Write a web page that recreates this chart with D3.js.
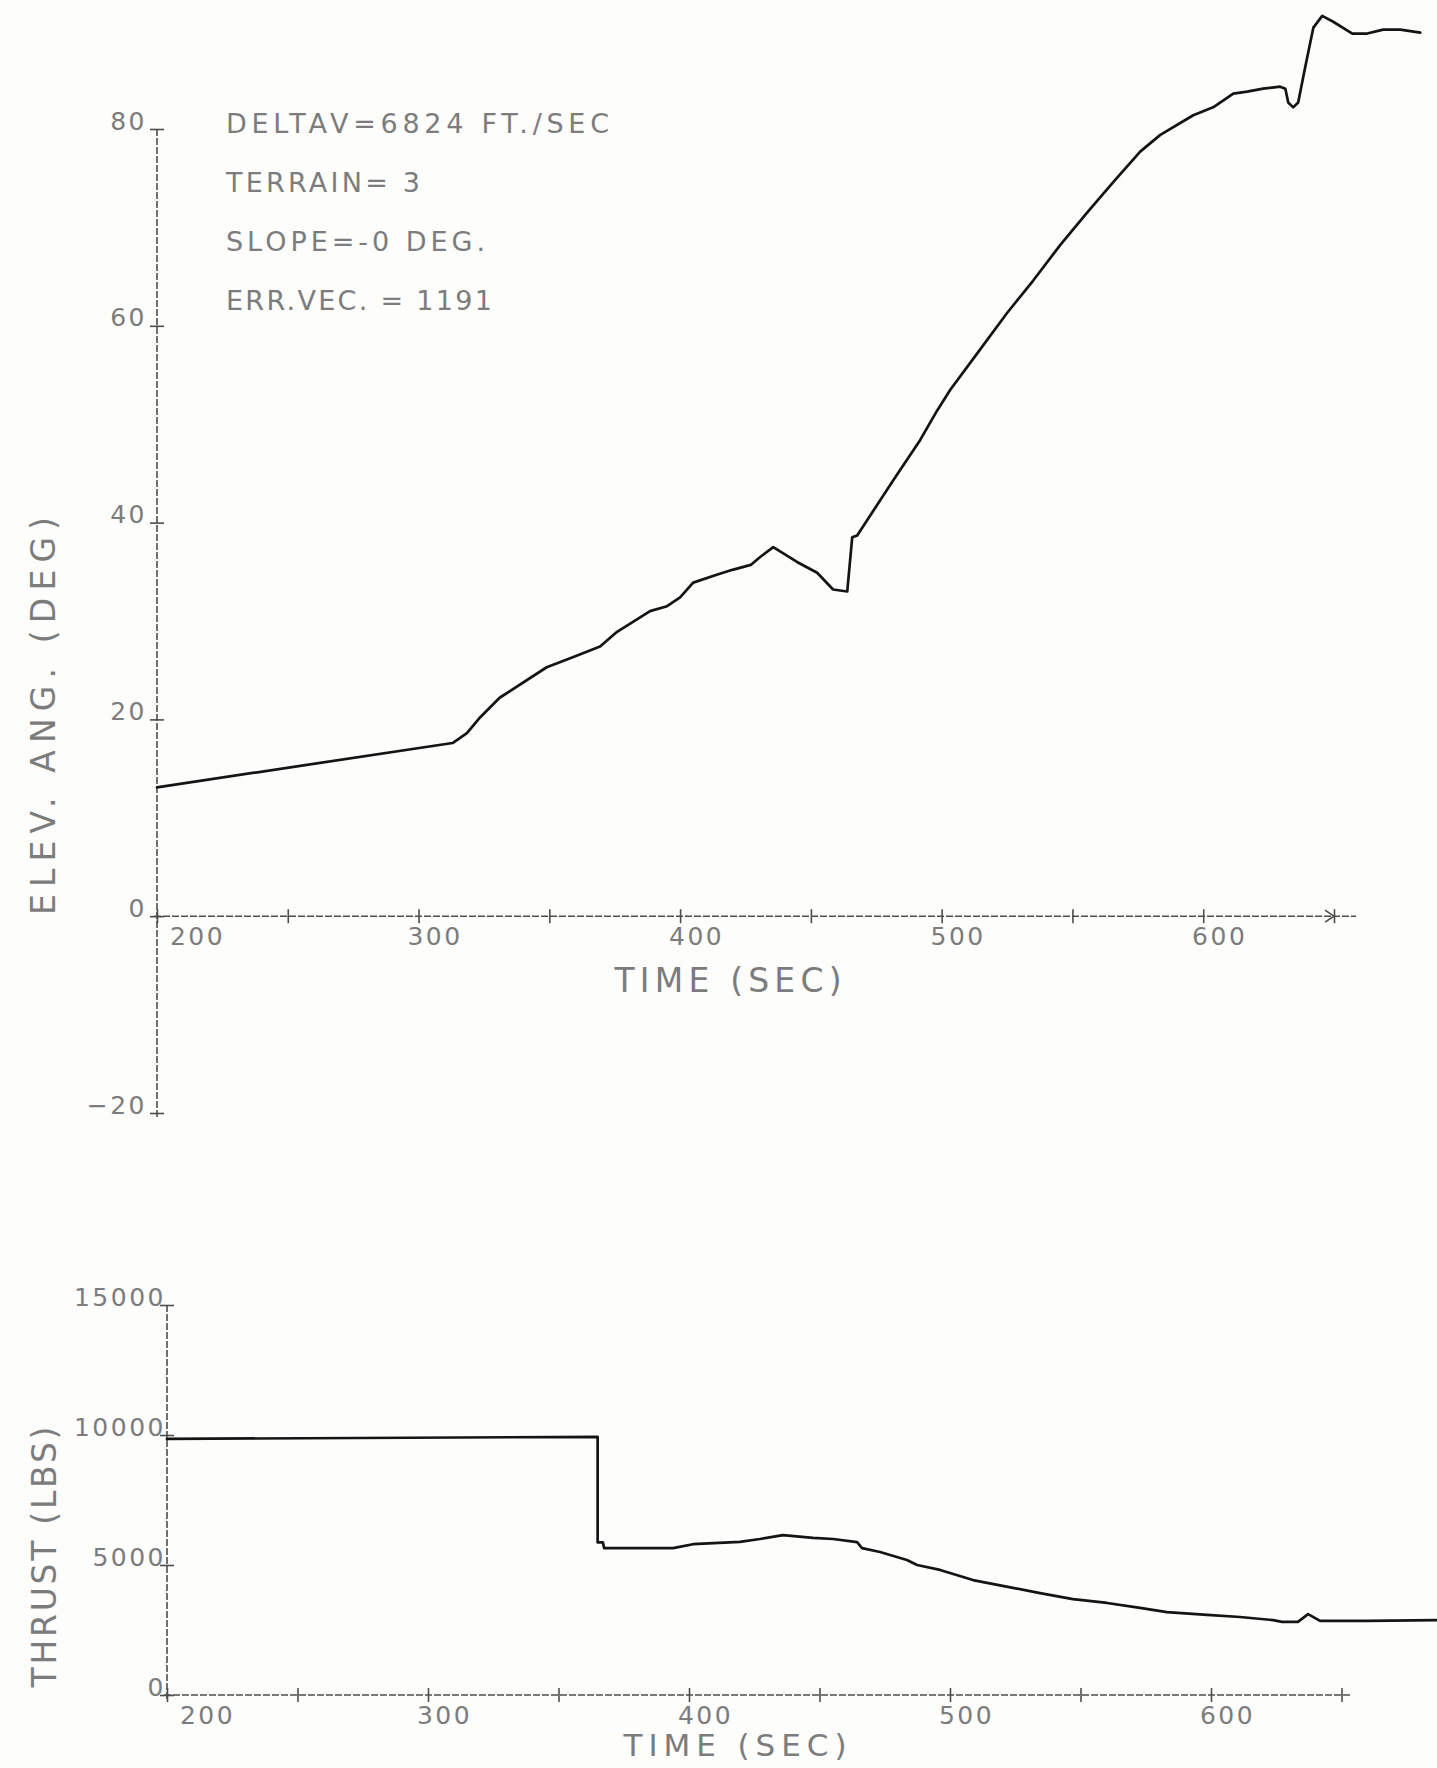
<!DOCTYPE html>
<html>
<head>
<meta charset="utf-8">
<script src="https://cdn.jsdelivr.net/npm/d3@7"></script>
<style>
  html, body { margin: 0; padding: 0; background: #fdfdfc; }
  svg { display: block; }
</style>
</head>
<body>
<svg id="chart" width="1437" height="1768"></svg>
<script>
// Elevation angle history (deg) against time (sec)
const elevTime = [200, 313, 318.5, 323.5, 331, 349, 358.7, 369.4, 375.9, 388.5,
  395, 400, 405, 414, 420, 427, 430.6, 435.6, 444.7, 452.4,
  458.5, 463.9, 465.8, 467.7, 481.5, 491.8, 498.3, 503.3, 513.6, 525,
  535, 545.3, 555.6, 565.6, 575.9, 583.6, 596.2, 603.8, 611.5, 616.8,
  622.9, 629.4, 631.4, 632.5, 634.4, 636.3, 639, 642.1, 645.5, 649.7,
  657, 662.7, 668.8, 675.3, 683];
const elevAngle = [13.1, 17.6, 18.6, 20.2, 22.2, 25.3, 26.3, 27.4, 28.9, 31.0,
  31.5, 32.4, 33.9, 34.7, 35.2, 35.7, 36.5, 37.5, 36.0, 34.9,
  33.2, 33.0, 38.5, 38.7, 44.3, 48.4, 51.4, 53.5, 57.2, 61.3,
  64.6, 68.2, 71.5, 74.6, 77.7, 79.4, 81.4, 82.2, 83.6, 83.8,
  84.1, 84.3, 84.1, 82.7, 82.2, 82.7, 86.3, 90.3, 91.5, 90.9,
  89.7, 89.7, 90.1, 90.1, 89.8];

// Engine thrust history (lbs) against time (sec)
const thrustTime = [200, 365, 365, 367, 367.5, 381.2, 393.9, 401.5, 419.5, 427.2,
  436, 447.5, 455.2, 464.4, 466.3, 473.2, 483.5, 487.4, 496.2, 508.8,
  524.1, 534.5, 547.1, 560.2, 572.8, 583.1, 598.5, 611.1, 623.8, 627.2,
  633.3, 637.2, 641.8, 659.8, 687];
const thrustLbs = [9850, 9930, 5870, 5870, 5650, 5650, 5650, 5800, 5890, 6000,
  6150, 6040, 6000, 5880, 5650, 5500, 5190, 5000, 4810, 4420,
  4120, 3920, 3690, 3540, 3350, 3190, 3080, 3000, 2880, 2810,
  2810, 3110, 2850, 2850, 2880];

// Axis ticks and labels
const timeTicks = [200, 250, 300, 350, 400, 450, 500, 550, 600, 650];
const timeLabels = [200, 300, 400, 500, 600];
const elevTicks = [-20, 0, 20, 40, 60, 80];
const thrustTicks = [0, 5000, 10000, 15000];
const runNotes = ["DELTAV=6824 FT./SEC", "TERRAIN= 3", "SLOPE=-0 DEG.", "ERR.VEC. = 1191"];

// ---- drawing ----
const svg = d3.select("#chart");
const FONT = "'DejaVu Sans', sans-serif";
const AXIS_COLOR = "#4d4d4d";
const TEXT_COLOR = "#7c7c7c";
const INK = "#141414";

const xTop = d3.scaleLinear().domain([200, 650]).range([157, 1334]);
const yTop = d3.scaleLinear().domain([-20, 80]).range([1113, 129]);
const xBot = d3.scaleLinear().domain([200, 650]).range([167, 1341.5]);
const yBot = d3.scaleLinear().domain([0, 15000]).range([1695, 1305]);

function dashedLine(x1, y1, x2, y2) {
  svg.append("line")
    .attr("x1", x1).attr("y1", y1).attr("x2", x2).attr("y2", y2)
    .attr("stroke", AXIS_COLOR).attr("stroke-width", 1.6)
    .attr("stroke-dasharray", "7,2");
}

function styleTickText(sel) {
  sel.attr("font-family", FONT).attr("font-size", 25)
    .attr("fill", TEXT_COLOR).attr("letter-spacing", 2.5);
}

function timeAxis(x, y0, extra) {
  const g = svg.append("g")
    .attr("transform", `translate(0,${y0})`)
    .call(d3.axisBottom(x).tickValues(timeTicks).tickSize(0)
      .tickFormat(d => timeLabels.includes(d) ? d : ""));
  g.select(".domain").remove();
  g.selectAll(".tick line")
    .attr("y1", -7).attr("y2", 7)
    .attr("stroke", AXIS_COLOR).attr("stroke-width", 1.6);
  g.selectAll(".tick text")
    .attr("y", 29).attr("dy", 0)
    .attr("x", d => d === 200 ? 40 : 16)
    .attr("text-anchor", "middle")
    .call(styleTickText);
  dashedLine(x(200) - 3, y0, x(650) + extra, y0);
}

function valueAxis(x0, y, ticks, labelGap) {
  const g = svg.append("g")
    .attr("transform", `translate(${x0},0)`)
    .call(d3.axisLeft(y).tickValues(ticks).tickSize(0).tickFormat(d3.format("d")));
  g.select(".domain").remove();
  g.selectAll(".tick line")
    .attr("x1", -7).attr("x2", 7)
    .attr("stroke", AXIS_COLOR).attr("stroke-width", 1.6);
  g.selectAll(".tick text")
    .attr("x", -labelGap).attr("dy", 0)
    .attr("text-anchor", "end")
    .call(styleTickText);
  const [lo, hi] = d3.extent(ticks);
  dashedLine(x0, y(hi), x0, y(lo) + 4);
}

function axisTitle(text, cx, cy, length, rotate, size) {
  svg.append("text")
    .attr("transform", `translate(${cx},${cy})` + (rotate ? " rotate(-90)" : ""))
    .attr("text-anchor", "middle")
    .attr("font-family", FONT).attr("font-size", size || 33)
    .attr("fill", TEXT_COLOR)
    .attr("textLength", length).attr("lengthAdjust", "spacing")
    .text(text);
}

function trace(x, y, ts, vs) {
  const pts = ts.map((t, i) => [t, vs[i]]);
  svg.append("path")
    .datum(pts)
    .attr("fill", "none")
    .attr("stroke", INK).attr("stroke-width", 2.7)
    .attr("stroke-linejoin", "round").attr("stroke-linecap", "round")
    .attr("d", d3.line().x(d => x(d[0])).y(d => y(d[1])));
}

// Upper panel: elevation angle
valueAxis(xTop(200), yTop, elevTicks, 10);
timeAxis(xTop, yTop(0), 22);
// arrowhead at the end of the time axis
svg.append("path")
  .attr("d", `M${xTop(650) - 9},${yTop(0) - 6} L${xTop(650)},${yTop(0)} L${xTop(650) - 9},${yTop(0) + 6}`)
  .attr("fill", "none").attr("stroke", AXIS_COLOR).attr("stroke-width", 1.6);
trace(xTop, yTop, elevTime, elevAngle);
axisTitle("ELEV. ANG. (DEG)", 55, 716, 398, true);
axisTitle("TIME (SEC)", 728, 992, 227, false);

// run parameters block
const noteWidths = [383, 194, 259, 266];
svg.append("g").selectAll("text")
  .data(runNotes)
  .join("text")
  .attr("x", 226)
  .attr("y", (d, i) => 133 + i * 59)
  .attr("font-family", FONT).attr("font-size", 27)
  .attr("fill", TEXT_COLOR)
  .attr("textLength", (d, i) => noteWidths[i]).attr("lengthAdjust", "spacing")
  .text(d => d);

// Lower panel: thrust
valueAxis(xBot(200), yBot, thrustTicks, 1);
timeAxis(xBot, yBot(0), 10);
trace(xBot, yBot, thrustTime, thrustLbs);
axisTitle("THRUST (LBS)", 56, 1557, 261, true);
axisTitle("TIME (SEC)", 735, 1756, 223, false, 31);
</script>
</body>
</html>
